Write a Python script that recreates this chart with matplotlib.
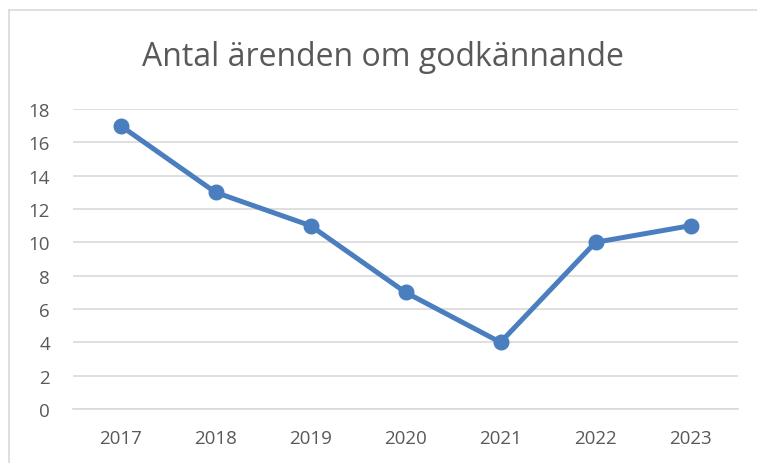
import matplotlib
matplotlib.use("Agg")
import matplotlib.pyplot as plt
from matplotlib.lines import Line2D

years = ["2017", "2018", "2019", "2020", "2021", "2022", "2023"]
counts = [17, 13, 11, 7, 4, 10, 11]
yticks = [0, 2, 4, 6, 8, 10, 12, 14, 16, 18]
title = "Antal ärenden om godkännande"

W, H = 757, 464
fig = plt.figure(figsize=(W / 100, H / 100), dpi=100)
plt.rcParams['font.family'] = ['Open Sans', 'DejaVu Sans']

# chart border (left and top visible)
border_col = "#d9d9d9"
fig.add_artist(Line2D([8.5 / W, 8.5 / W], [0, 1 - 10.5 / H], transform=fig.transFigure, color=border_col, lw=1.2))
fig.add_artist(Line2D([8.5 / W, 1], [1 - 10.5 / H, 1 - 10.5 / H], transform=fig.transFigure, color=border_col, lw=1.2))

left, right = 73 / W, 738 / W
bottom, top = 1 - 410 / H, 1 - 110 / H
ax = fig.add_axes([left, bottom, right - left, top - bottom])

x = list(range(len(years)))
ax.plot(x, counts, color="#4a7ebf", lw=3.6, marker="o", markersize=10.5, zorder=3, clip_on=False)

ax.set_xlim(-0.5, len(years) - 0.5)
ax.set_ylim(0, 18)
ax.set_yticks(yticks)
ax.set_xticks(x)
ax.set_xticklabels(years)
ax.grid(axis="y", color="#d9d9d9", lw=1.2)
ax.set_axisbelow(True)
for s in ["top", "right", "left"]:
    ax.spines[s].set_visible(False)
ax.spines["bottom"].set_color("#d9d9d9")
ax.spines["bottom"].set_linewidth(1.2)
ax.tick_params(axis="both", length=0, labelsize=13.5, colors="#595959")
ax.tick_params(axis="y", pad=16.5)
ax.tick_params(axis="x", pad=14.5)

fig.text(0.5 + 8 / W / 2, 1 - 57 / H, title, ha="center", va="center", fontsize=23, color="#595959")

fig.savefig("out.png", dpi=100)
